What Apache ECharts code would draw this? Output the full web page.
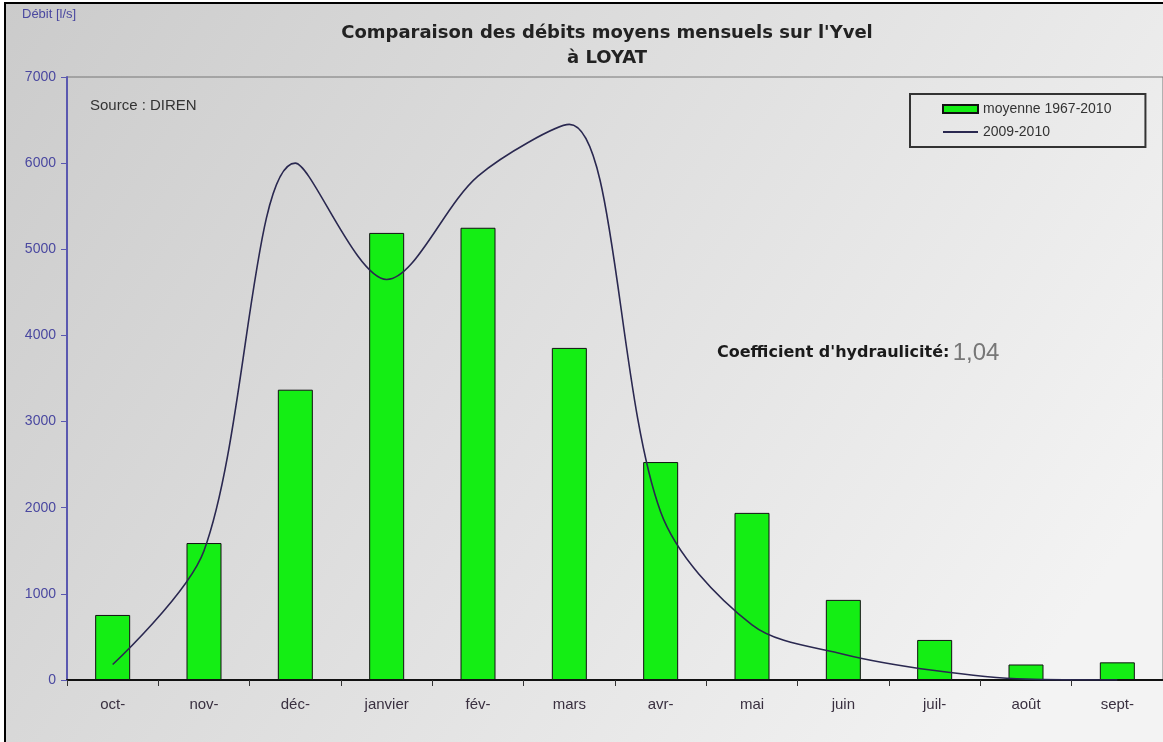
<!DOCTYPE html>
<html>
<head>
<meta charset="utf-8">
<script src="https://cdn.jsdelivr.net/npm/echarts@6/dist/echarts.min.js"></script>
<style>html,body{margin:0;padding:0;background:#fff}#c{width:1163px;height:742px}</style>
</head>
<body>
<div id="c"></div>
<script>
const months = ['oct-', 'nov-', 'déc-', 'janvier', 'fév-', 'mars', 'avr-', 'mai', 'juin', 'juil-', 'août', 'sept-'];
const moyenne = [755, 1590, 3370, 5190, 5250, 3855, 2530, 1940, 930, 465, 180, 205];
const annee = [180, 1500, 6000, 4650, 5850, 6450, 1950, 640, 300, 110, 10, 0];
const yTicks = [0, 1000, 2000, 3000, 4000, 5000, 6000, 7000];
const titleText = "Comparaison des débits moyens mensuels sur l'Yvel\nà LOYAT";

const chart = echarts.init(document.getElementById('c'));
chart.setOption({
  animation: false,
  backgroundColor: {
    type: 'linear', x: 0, y: 0, x2: 0.9, y2: 0.9,
    colorStops: [
      {offset: 0, color: '#cbcbcb'},
      {offset: 0.45, color: '#dddddd'},
      {offset: 1, color: '#f3f3f3'}
    ]
  },
  title: {
    text: titleText,
    left: 602, top: 16, textAlign: 'center',
    textStyle: {fontFamily: 'DejaVu Sans', fontSize: 18, fontWeight: 'bold', color: '#222', lineHeight: 25, align: 'center'}
  },
  legend: {
    orient: 'vertical', left: 910, top: 94,
    borderColor: '#333', borderWidth: 2,
    padding: [8, 34, 8, 32],
    itemWidth: 35, itemHeight: 8, itemGap: 9,
    textStyle: {fontFamily: 'Liberation Sans', fontSize: 14, color: '#333'},
    data: [
      {name: 'moyenne 1967-2010', icon: 'rect'},
      {name: '2009-2010', icon: 'path://M0,0L70,0L70,4L0,4Z'}
    ]
  },
  grid: {left: 67, top: 77, width: 1100, height: 603, show: true, borderColor: '#777', borderWidth: 1, containLabel: false},
  xAxis: {
    type: 'category', data: months,
    axisLine: {lineStyle: {color: '#111', width: 2}},
    axisTick: {show: true, length: 6, lineStyle: {color: '#333'}},
    axisLabel: {fontFamily: 'Liberation Sans', fontSize: 15, color: '#3a3040', margin: 17}
  },
  yAxis: {
    type: 'value', min: 0, max: 7000, interval: 1000,
    axisLine: {show: true, lineStyle: {color: '#5a58b0', width: 2}},
    axisTick: {show: true, length: 6, lineStyle: {color: '#5a58b0'}},
    splitLine: {show: false},
    axisLabel: {fontFamily: 'Liberation Sans', fontSize: 14, color: '#4a48a0', margin: 11,
      formatter: v => yTicks.includes(v) ? String(v) : ''}
  },
  graphic: [
    {type: 'polyline', shape: {points: [[5, 742], [5, 3], [1163, 3]]}, style: {stroke: '#000', lineWidth: 2, fill: null}},
    {type: 'rect', shape: {x: 0, y: 0, width: 1163, height: 2}, style: {fill: '#fff'}},
    {type: 'rect', shape: {x: 0, y: 0, width: 4, height: 742}, style: {fill: '#fff'}},
    {type: 'text', left: 22, top: 8, style: {text: 'Débit [l/s]', font: '13px Liberation Sans', fill: '#4a48a0'}},
    {type: 'text', left: 90, top: 98, style: {text: 'Source : DIREN', font: '15px Liberation Sans', fill: '#333'}},
    {type: 'text', left: 717, top: 341, style: {
      rich: {a: {font: 'bold 16px DejaVu Sans', fill: '#1a1a1a'}, b: {font: '24px Liberation Sans', fill: '#777'}},
      text: "{a|Coefficient d'hydraulicité:} {b|1,04}"}}
  ],
  series: [
    {
      name: 'moyenne 1967-2010', type: 'bar', data: moyenne, barWidth: 35,
      itemStyle: {color: '#14ee14', borderColor: '#111', borderWidth: 1}
    },
    {
      name: '2009-2010', type: 'line', data: annee, smooth: 0.32, symbol: 'none', z: 3,
      lineStyle: {color: '#2a2850', width: 1.6}, itemStyle: {color: '#2a2850'}
    }
  ]
});
</script>
</body>
</html>
